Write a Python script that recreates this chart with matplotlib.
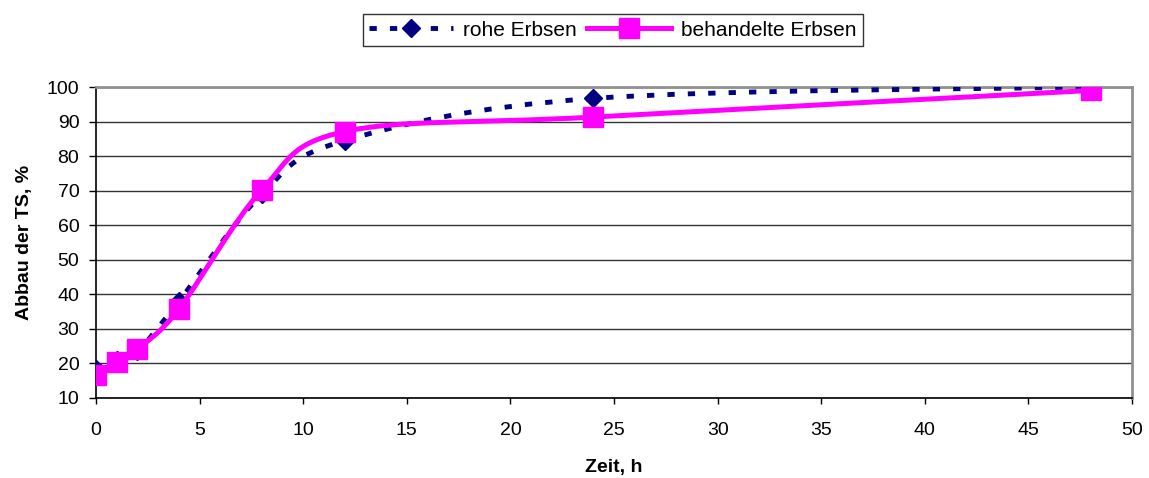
import numpy as np
import matplotlib
matplotlib.use("Agg")
import matplotlib.pyplot as plt
from matplotlib.path import Path
from matplotlib.patches import PathPatch
from matplotlib.lines import Line2D

plt.rcParams['font.family'] = ['Liberation Sans', 'DejaVu Sans']

# data
zeit = [0, 1, 2, 4, 8, 12, 24, 48]
rohe = [18.5, 21, 23.5, 38, 69, 84.5, 96.7, 100]
behandelt = [16.8, 20.5, 24.2, 35.7, 70.2, 87.1, 91.3, 99.0]

navy = '#000080'
pink = '#FF00FF'
dash = (0, (1.5, 2.7))


def smooth_path(x, y):
    # Excel-like smoothed line: cubic bezier, catmull-rom control points
    x = np.asarray(x, float)
    y = np.asarray(y, float)
    pts = np.column_stack([x, y])
    n = len(pts)
    verts = [pts[0]]
    codes = [Path.MOVETO]
    for i in range(n - 1):
        p0 = pts[i - 1] if i > 0 else pts[i]
        p1 = pts[i]
        p2 = pts[i + 1]
        p3 = pts[i + 2] if i + 2 < n else pts[i + 1]
        c1 = p1 + (p2 - p0) / 6.0
        c2 = p2 - (p3 - p1) / 6.0
        verts += [c1, c2, p2]
        codes += [Path.CURVE4] * 3
    return Path(verts, codes)


fig = plt.figure(figsize=(11.49, 4.78), dpi=100)
ax = fig.add_axes([96 / 1149, 1 - 398 / 478, (1132 - 96) / 1149, (398 - 87) / 478])

ax.add_patch(PathPatch(smooth_path(zeit, rohe), fill=False, edgecolor=navy,
                       lw=3.5, linestyle=dash, capstyle='butt', zorder=3))
ax.plot(zeit, rohe, linestyle='none', marker='D', markersize=8.7, color=navy, zorder=4)

ax.add_patch(PathPatch(smooth_path(zeit, behandelt), fill=False, edgecolor=pink,
                       lw=3.6, zorder=5))
ax.plot(zeit, behandelt, linestyle='none', marker='s', markersize=14, color=pink, zorder=6)

ax.set_xlim(0, 50)
ax.set_ylim(10, 100)
ax.set_xticks(range(0, 51, 5))
ax.set_yticks(range(10, 101, 10))
ax.grid(axis='y', color='#333333', lw=1.0)
ax.set_axisbelow(True)
ax.tick_params(labelsize=14, width=1, direction='out', color='black')
ax.tick_params(axis='x', length=4.5, pad=13)
ax.tick_params(axis='y', length=5, pad=7)

for s in ['top', 'right']:
    ax.spines[s].set_color('#909090')
    ax.spines[s].set_linewidth(2)
for s in ['left', 'bottom']:
    ax.spines[s].set_color('black')
    ax.spines[s].set_linewidth(1.2)

ax.set_xlabel('Zeit, h', fontsize=14, fontweight='bold', labelpad=14)
ax.set_ylabel('Abbau der TS, %', fontsize=14, fontweight='bold', labelpad=10)

handles = [
    Line2D([], [], color=navy, lw=3.5, linestyle=dash, marker='D', markersize=8.7),
    Line2D([], [], color=pink, lw=3.6, marker='s', markersize=14),
]
leg = fig.legend(handles, ['rohe Erbsen', 'behandelte Erbsen'], loc='center',
                 bbox_to_anchor=(613 / 1149, 1 - 30 / 478), ncol=2, fontsize=15,
                 frameon=True, fancybox=False, edgecolor='black', handlelength=4.0,
                 handletextpad=0.5, columnspacing=0.5, borderpad=0.3)
leg.get_frame().set_linewidth(1)

fig.savefig('out.png', dpi=100)
